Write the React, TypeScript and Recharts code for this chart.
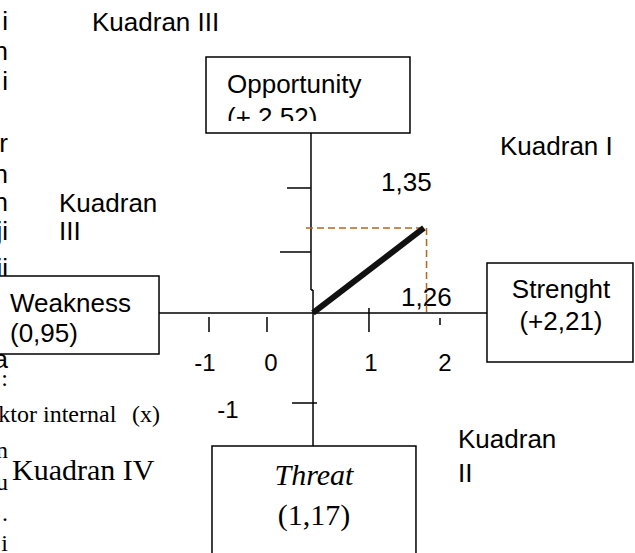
import React from "react";
import {
  ComposedChart,
  Line,
  XAxis,
  YAxis,
  ReferenceLine,
  ReferenceArea,
} from "recharts";

const W = 635;
const H = 553;

const SANS = "'Liberation Sans', Arial, sans-serif";
const SERIF = "'Liberation Serif', 'Times New Roman', serif";
const ORANGE = "#b5651d";

// diagram units, origin where the two axes cross
const X_DOMAIN: [number, number] = [-3.557, 3.659];
const Y_DOMAIN: [number, number] = [-3.81, 4.968];

// result of the IFE / EFE scoring
const strengthScore = 1.26;
const opportunityScore = 1.35;
const strategyLine = [
  { x: 0, y: 0 },
  { x: strengthScore, y: opportunityScore },
];

// hand drawn ticks of the scan
const xTicks = [-1.182, -0.523, 0.636, 1.443];
const xTickLabels = ["-1", "0", "1", "2"];
const yTicks = [1.984, 0.968, -1.429];
const yTickLabels = ["", "", "-1"];

// box captions
const boxTitles = ["Opportunity", "Strenght", "Weakness", "Threat"];
const boxValues = ["(+ 2.52)", "(+2,21)", "(0,95)", "(1,17)"];

// tick extents (perpendicular to the axis)
const xTickSpan: [number, number][] = [
  [-0.063, -0.302],
  [-0.063, -0.302],
  [0.079, -0.302],
  [-0.079, -0.19],
];
const yTickSpan: [number, number][] = [
  [-0.295, -0.027],
  [-0.375, -0.027],
  [-0.239, 0.045],
];

// box rectangles in diagram units: x1, x2, y1, y2
const boxRects = [
  [-1.216, 1.102, 2.857, 4.063],
  [1.977, 3.636, -0.778, 0.794],
  [-3.591, -1.75, -0.651, 0.587],
  [-1.148, 1.17, -3.95, -2.111],
];

type VB = { x: number; y: number; width: number; height: number };

const opportunityLabel = (props: any) => {
  const { x, y } = props.viewBox as VB;
  return (
    <g fontFamily={SANS} fontSize={26} fill="#000">
      <defs>
        <clipPath id="opp-clip">
          <rect x={x} y={y} width={260} height={64} />
        </clipPath>
      </defs>
      <text x={x + 21} y={y + 36}>{boxTitles[0]}</text>
      <text x={x + 21} y={y + 69} clipPath="url(#opp-clip)">
        {boxValues[0]}
      </text>
    </g>
  );
};

const strengthLabel = (props: any) => {
  const { x, y, width } = props.viewBox as VB;
  const cx = x + width / 2 + 1;
  return (
    <g fontFamily={SANS} fontSize={26} fill="#000" textAnchor="middle">
      <text x={cx} y={y + 35}>{boxTitles[1]}</text>
      <text x={cx} y={y + 67}>{boxValues[1]}</text>
    </g>
  );
};

const weaknessLabel = (props: any) => {
  const { y } = props.viewBox as VB;
  return (
    <g fontFamily={SANS} fontSize={26} fill="#000">
      <text x={10} y={y + 36}>{boxTitles[2]}</text>
      <text x={10} y={y + 66}>{boxValues[2]}</text>
    </g>
  );
};

const threatLabel = (props: any) => {
  const { x, y, width } = props.viewBox as VB;
  const cx = x + width / 2;
  return (
    <g fontFamily={SERIF} fontSize={30} fill="#000" textAnchor="middle">
      <text x={cx} y={y + 39} fontStyle="italic">{boxTitles[3]}</text>
      <text x={cx} y={y + 79}>{boxValues[3]}</text>
    </g>
  );
};

const boxLabels = [opportunityLabel, strengthLabel, weaknessLabel, threatLabel];

// text of the page that sits behind the diagram
function PageText() {
  const leftSans = [
    ["i", 30],
    ["n", 60],
    ["i", 90],
    ["r", 152],
    ["n", 183],
    ["n", 211],
    ["ji", 240],
    ["ji", 277],
    ["a", 368],
  ] as const;
  const leftSerif = [
    [":", 386],
    ["n", 458],
    ["u", 490],
    [".", 521],
    ["i", 551],
  ] as const;
  return (
    <svg
      width={W}
      height={H}
      style={{ position: "absolute", left: 0, top: 0 }}
    >
      <g fontFamily={SANS} fontSize={26} fill="#000">
        {leftSans.map(([t, y], i) => (
          <text key={i} x={8} y={y} textAnchor="end">
            {t}
          </text>
        ))}
        <text x={92} y={31}>Kuadran III</text>
        <text x={500} y={155}>Kuadran I</text>
        <text x={59} y={212}>Kuadran</text>
        <text x={59} y={240}>III</text>
        <text x={458} y={448}>Kuadran</text>
        <text x={458} y={482}>II</text>
        <text x={381} y={191}>1,35</text>
        <text x={401} y={306}>1,26</text>
      </g>
      <g fontFamily={SANS} fontSize={24} fill="#000" textAnchor="middle">
        {[205, 271, 371, 445].map((cx, i) => (
          <text key={i} x={cx} y={371}>
            {xTickLabels[i]}
          </text>
        ))}
        <text x={228} y={418}>{yTickLabels[2]}</text>
      </g>
      <g fontFamily={SERIF} fontSize={24} fill="#000">
        {leftSerif.map(([t, y], i) => (
          <text key={i} x={8} y={y} textAnchor="end">
            {t}
          </text>
        ))}
        <text x={37} y={422} textAnchor="end">ktor</text>
        <text x={43} y={422}>internal</text>
        <text x={132} y={422}>(x)</text>
        <text x={12} y={480} fontSize={30}>Kuadran IV</text>
      </g>
    </svg>
  );
}

export default function App() {
  return (
    <div
      style={{
        position: "fixed",
        left: 0,
        top: 0,
        width: W,
        height: H,
        background: "#fff",
      }}
    >
      <PageText />
      <div style={{ position: "absolute", left: 0, top: 0 }}>
        <ComposedChart
          width={W}
          height={H}
          data={strategyLine}
          margin={{ top: 0, right: 0, bottom: 0, left: 0 }}
        >
          <XAxis
            type="number"
            dataKey="x"
            domain={X_DOMAIN}
            allowDataOverflow
            hide
          />
          <YAxis type="number" domain={Y_DOMAIN} allowDataOverflow hide />

          {boxRects.map(([x1, x2, y1, y2], i) => (
            <ReferenceArea
              key={boxTitles[i]}
              x1={x1}
              x2={x2}
              y1={y1}
              y2={y2}
              ifOverflow="visible"
              fill="#fff"
              fillOpacity={1}
              stroke="#000"
              strokeWidth={1.5}
              label={boxLabels[i]}
            />
          ))}

          {/* horizontal axis between Weakness and Strenght */}
          <ReferenceLine
            segment={[
              { x: boxRects[2][1], y: 0 },
              { x: boxRects[1][0], y: 0 },
            ]}
            stroke="#000"
            strokeWidth={1.5}
            ifOverflow="visible"
          />
          {/* vertical axis, slightly offset above the origin like the scan */}
          <ReferenceLine
            segment={[
              { x: -0.023, y: boxRects[0][2] },
              { x: -0.023, y: 0.365 },
            ]}
            stroke="#000"
            strokeWidth={1.5}
          />
          <ReferenceLine
            segment={[
              { x: -0.023, y: 0.365 },
              { x: 0, y: 0.365 },
            ]}
            stroke="#000"
            strokeWidth={1.5}
          />
          <ReferenceLine
            segment={[
              { x: 0, y: 0.365 },
              { x: 0, y: boxRects[3][3] },
            ]}
            stroke="#000"
            strokeWidth={1.5}
          />

          {xTicks.map((t, i) => (
            <ReferenceLine
              key={"xt" + i}
              segment={[
                { x: t, y: xTickSpan[i][0] },
                { x: t, y: xTickSpan[i][1] },
              ]}
              stroke="#000"
              strokeWidth={1.5}
            />
          ))}
          {yTicks.map((t, i) => (
            <ReferenceLine
              key={"yt" + i}
              segment={[
                { x: yTickSpan[i][0], y: t },
                { x: yTickSpan[i][1], y: t },
              ]}
              stroke="#000"
              strokeWidth={1.5}
            />
          ))}

          {/* projection of the result onto both axes */}
          <ReferenceLine
            segment={[
              { x: -0.08, y: opportunityScore },
              { x: strengthScore + 0.03, y: opportunityScore },
            ]}
            stroke={ORANGE}
            strokeWidth={1.5}
            strokeDasharray="7 4"
          />
          <ReferenceLine
            segment={[
              { x: strengthScore + 0.03, y: opportunityScore },
              { x: strengthScore + 0.03, y: -0.048 },
            ]}
            stroke={ORANGE}
            strokeWidth={1.5}
            strokeDasharray="7 4"
          />

          <Line
            type="linear"
            dataKey="y"
            stroke="#111"
            strokeWidth={6}
            dot={false}
            activeDot={false}
            isAnimationActive={false}
          />
        </ComposedChart>
      </div>
    </div>
  );
}
